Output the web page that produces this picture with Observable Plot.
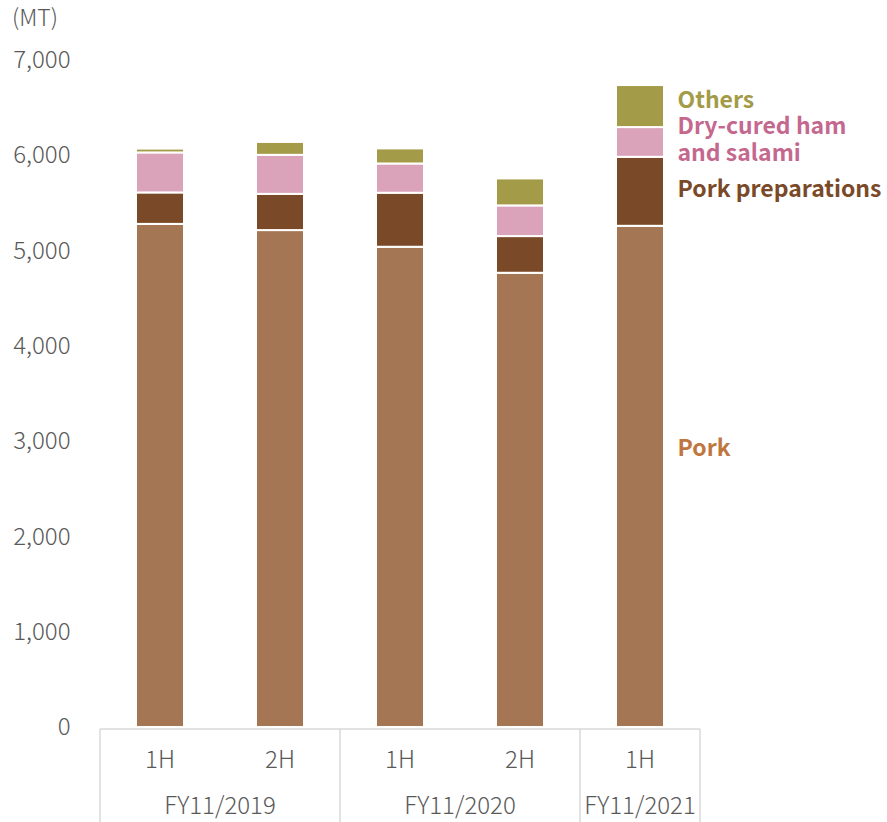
<!DOCTYPE html>
<html>
<head>
<meta charset="utf-8">
<script src="https://cdn.jsdelivr.net/npm/d3@7"></script>
<script src="https://cdn.jsdelivr.net/npm/@observablehq/plot@0.6"></script>
<style>
  body { margin: 0; background: #fff; }
  svg { display: block; }
</style>
</head>
<body>
<div id="chart"></div>
<script>
// Half-year periods, grouped by fiscal year
const periods = ["FY11/2019 1H", "FY11/2019 2H", "FY11/2020 1H", "FY11/2020 2H", "FY11/2021 1H"];
const halves = ["1H", "2H", "1H", "2H", "1H"];
const years = ["FY11/2019", "FY11/2019", "FY11/2020", "FY11/2020", "FY11/2021"];

// Volumes in metric tons, bottom to top of each stack
const series = ["Pork", "Pork preparations", "Dry-cured ham\nand salami", "Others"];
const pork = [5280, 5215, 5040, 4767, 5260];
const porkPreparations = [330, 380, 567, 385, 724];
const dryCuredHamSalami = [420, 410, 307, 322, 312];
const others = [40, 135, 158, 283, 441];

const yTicks = [0, 1000, 2000, 3000, 4000, 5000, 6000, 7000];
const unitLabel = "(MT)";

const fillColors = ["#A57653", "#7A4A28", "#DBA3BA", "#A39B47"];
const labelColors = ["#C0773F", "#7A4A28", "#C4688F", "#A39B47"];
const labelShift = [-30, -3, -4, -7];

const valuesBySeries = [pork, porkPreparations, dryCuredHamSalami, others];
const rows = [];
periods.forEach((p, i) => {
  series.forEach((s, j) => rows.push({period: p, series: s, value: valuesBySeries[j][i]}));
});

// Series names sit beside the latest bar, at the middle of each segment
const last = periods[periods.length - 1];
const lastIndex = periods.length - 1;
let cum = 0;
const seriesLabels = series.map((s, j) => {
  const v = valuesBySeries[j][lastIndex];
  const mid = cum + v / 2;
  cum += v;
  return {period: last, series: s, mid};
});

const fontFamily = "'Noto Sans CJK JP', 'Noto Sans', sans-serif";
const axisFontSize = 24;

const plot = Plot.plot({
  width: 887,
  height: 822,
  marginTop: 60,
  marginBottom: 95,
  marginLeft: 100,
  marginRight: 187,
  style: {fontFamily, background: "#fff"},
  x: {domain: periods, padding: 0, axis: null},
  y: {domain: [0, 7000], ticks: yTicks, axis: null},
  color: {domain: series, range: fillColors},
  marks: [
    Plot.axisY({
      ticks: yTicks,
      tickSize: 0,
      tickPadding: 30,
      tickFormat: d3.format(","),
      fontSize: axisFontSize,
      fill: "#595959",
      fontWeight: 300,
      label: null
    }),
    Plot.barY(rows, Plot.stackY({
      x: "period",
      y: "value",
      fill: "series",
      stroke: "white",
      strokeWidth: 2,
      insetLeft: 36,
      insetRight: 36
    })),
    ...series.map((s, j) =>
      Plot.text(seriesLabels.filter(d => d.series === s), {
        x: "period",
        y: "mid",
        text: "series",
        dx: 37,
        dy: labelShift[j],
        textAnchor: "start",
        lineAnchor: "middle",
        fill: labelColors[j],
        fontSize: 23,
        fontWeight: "bold",
        lineHeight: 1.17
      })
    )
  ]
});

document.getElementById("chart").appendChild(plot);

const svg = d3.select(plot);
const xs = plot.scale("x");
const ys = plot.scale("y");
const step = xs.bandwidth ?? 120;
const left = xs.apply(periods[0]);
const right = xs.apply(last) + step;
const baseY = ys.apply(0) + 2;
const H = 822;

// Category table beneath the bars
const g = svg.append("g").attr("stroke", "#D9D9D9").attr("stroke-width", 1.5);
g.append("line").attr("x1", left).attr("x2", right).attr("y1", baseY).attr("y2", baseY);
const groupStarts = periods.filter((p, i) => i === 0 || years[i] !== years[i - 1]);
[...groupStarts.map(p => xs.apply(p)), right].forEach(x => {
  g.append("line").attr("x1", x).attr("x2", x).attr("y1", baseY).attr("y2", H);
});

const t = svg.append("g")
  .attr("font-family", fontFamily)
  .attr("font-size", axisFontSize)
  .attr("font-weight", 300)
  .attr("fill", "#595959")
  .attr("text-anchor", "middle");
periods.forEach((p, i) => {
  t.append("text").attr("x", xs.apply(p) + step / 2).attr("y", 760).attr("dy", "0.35em").text(halves[i]);
});
[...new Set(years)].forEach(yr => {
  const ps = periods.filter((p, i) => years[i] === yr);
  const cx = (xs.apply(ps[0]) + xs.apply(ps[ps.length - 1]) + step) / 2;
  t.append("text").attr("x", cx).attr("y", 806).attr("dy", "0.35em").text(yr);
});

// Unit label
svg.append("text")
  .attr("x", 12).attr("y", 18).attr("dy", "0.35em")
  .attr("text-anchor", "start")
  .attr("font-family", fontFamily).attr("font-size", 23).attr("font-weight", 300)
  .attr("fill", "#595959")
  .text(unitLabel);
</script>
</body>
</html>
